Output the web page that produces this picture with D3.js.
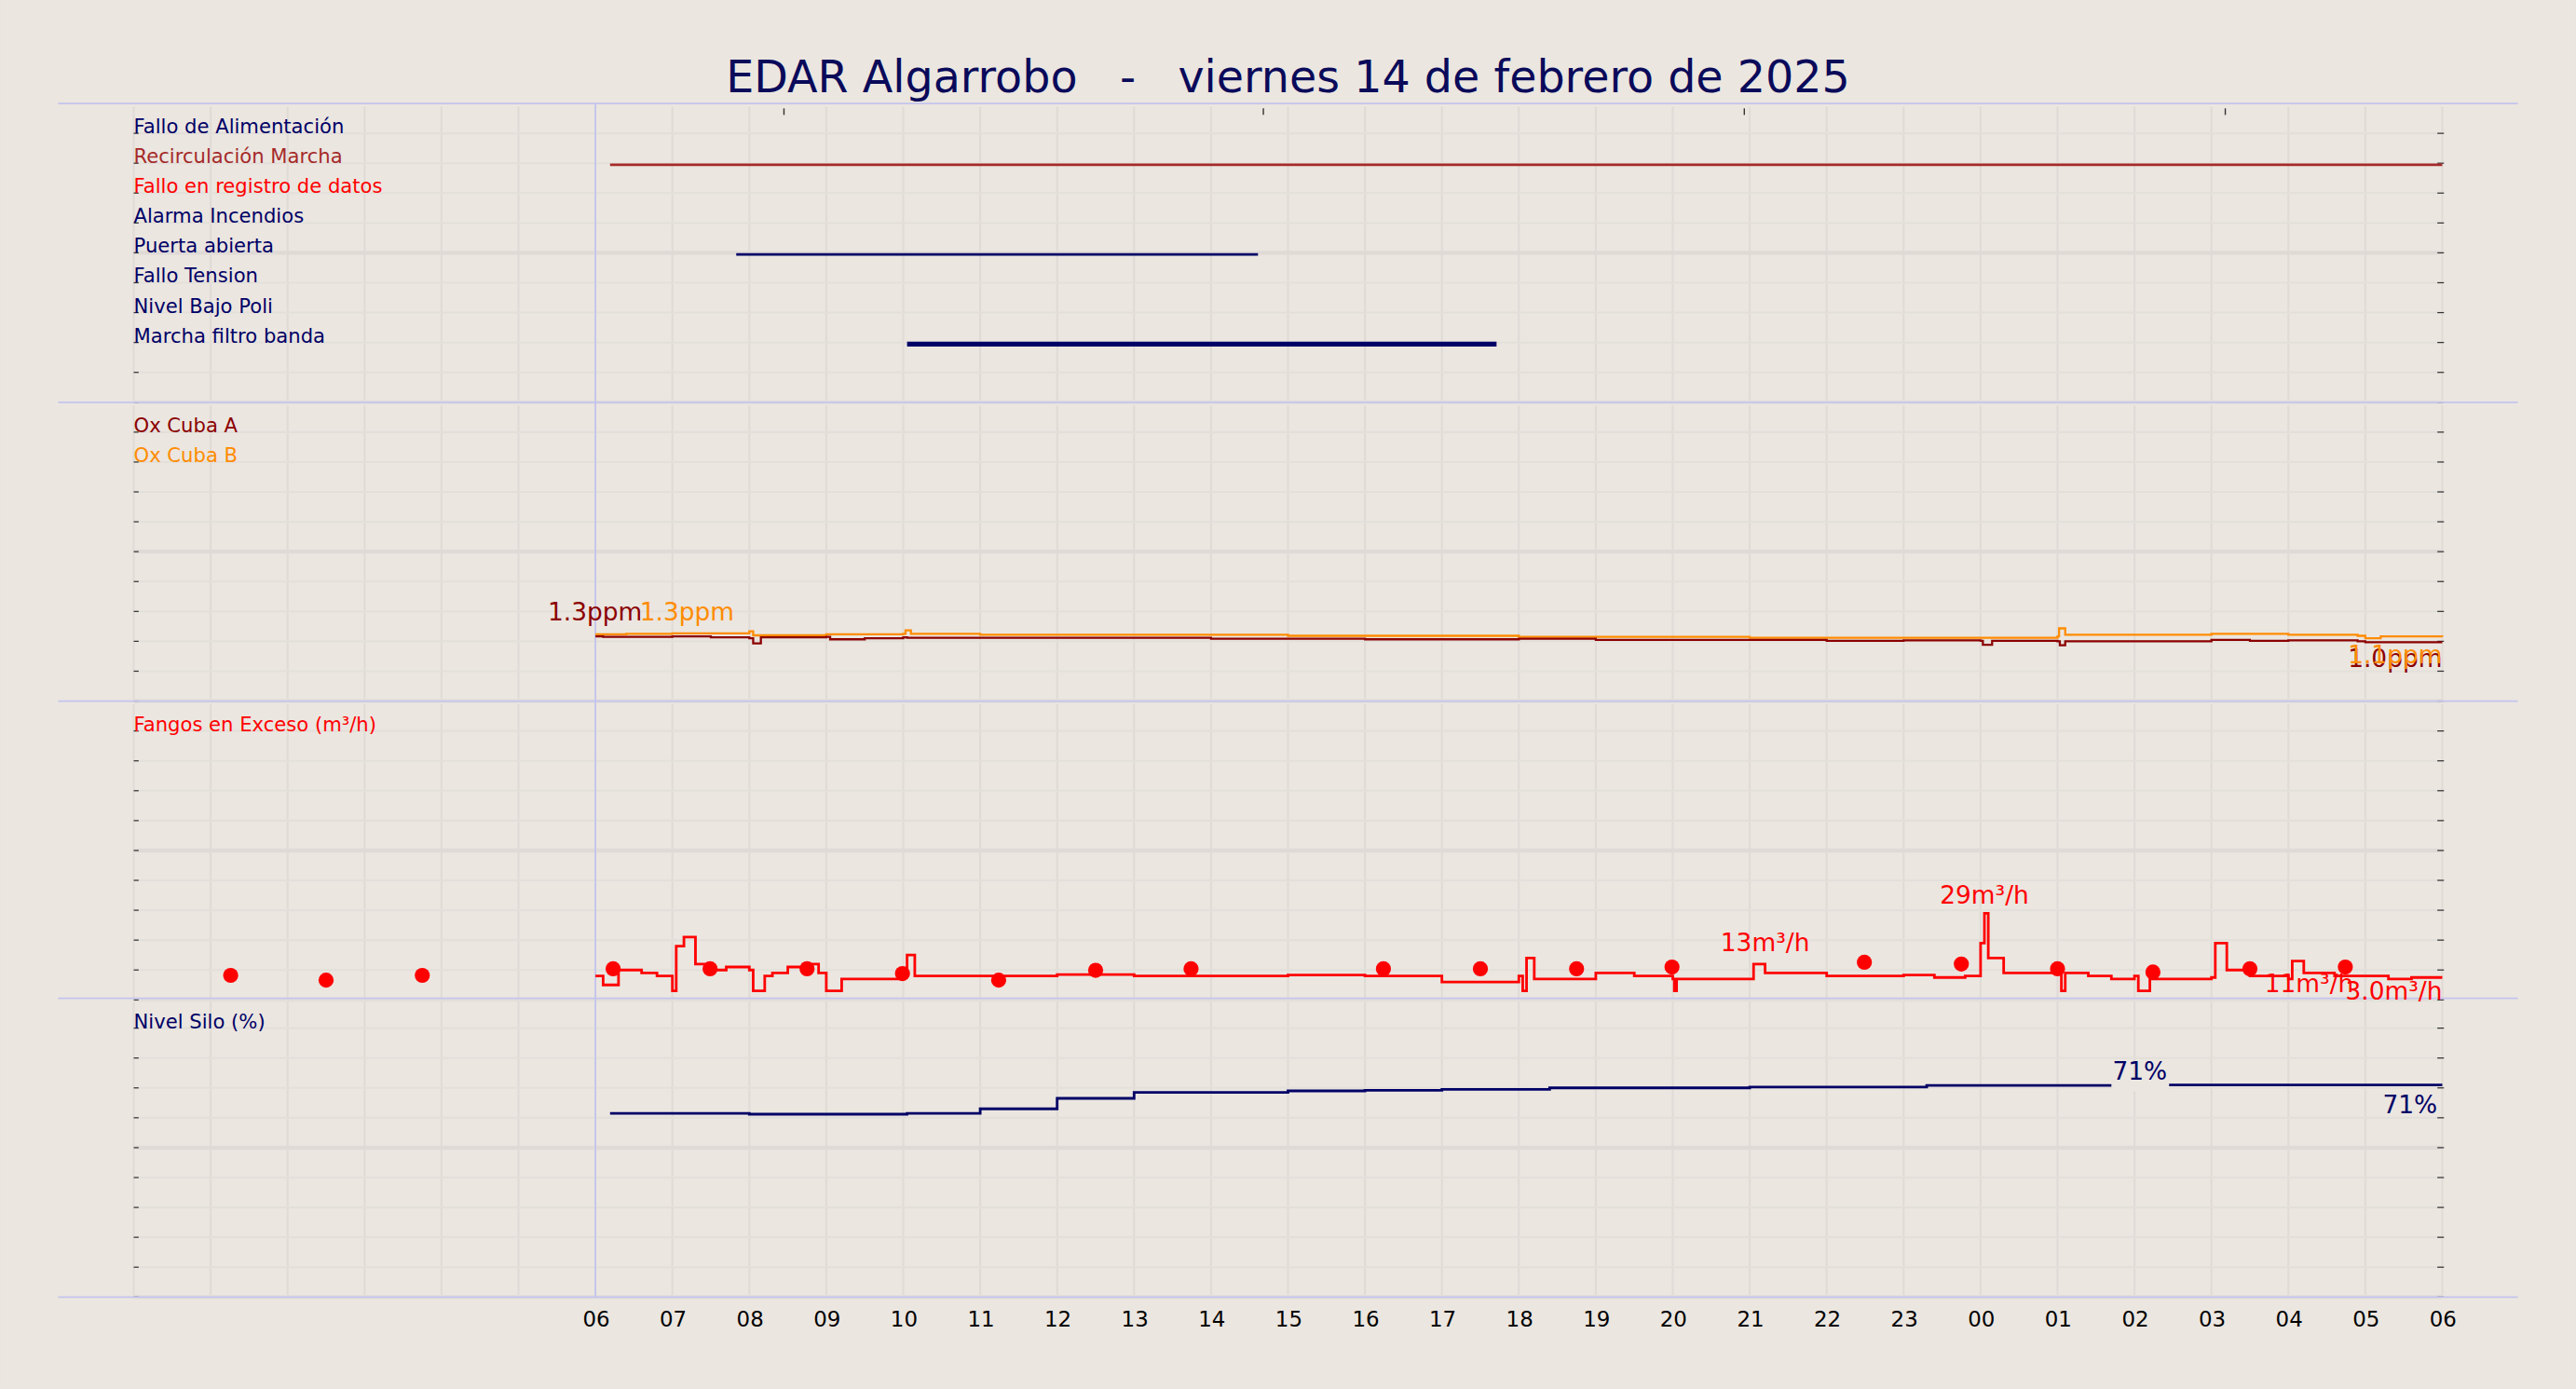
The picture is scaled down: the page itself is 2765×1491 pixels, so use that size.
<!DOCTYPE html><html><head><meta charset="utf-8"><script src="https://d3js.org/d3.v7.min.js"></script>
<style>body{margin:0;background:#ebe6e0}svg{display:block}text{white-space:pre}</style></head><body><svg id="c"></svg><script>
const title="EDAR Algarrobo   -   viernes 14 de febrero de 2025";
const hourLabels=["06","07","08","09","10","11","12","13","14","15","16","17","18","19","20","21","22","23","00","01","02","03","04","05","06"];
const eventNames=["Fallo de Alimentación","Recirculación Marcha","Fallo en registro de datos","Alarma Incendios","Puerta abierta","Fallo Tension","Nivel Bajo Poli","Marcha filtro banda"];
const eventColors=["#000066","#a52a2a","#ff0000","#000066","#000066","#000066","#000066","#000066"];
const eventSpans=[[1,6.19,30,1.5],[4,7.83,14.61,1.5],[7,10.05,17.71,3]];
const oxA=[[6,1.3],[6.1,1.29],[7,1.3],[7.5,1.28],[8,1.26],[8.05,1.16],[8.15,1.28],[9,1.29],[9.05,1.24],[9.5,1.26],[10,1.28],[10.05,1.27],[14,1.25],[16,1.24],[18,1.25],[19,1.23],[21,1.23],[22,1.21],[23,1.22],[24,1.21],[24.03,1.13],[24.15,1.21],[25,1.2],[25.03,1.12],[25.1,1.2],[26,1.2],[27,1.23],[27.5,1.21],[28,1.22],[28.9,1.2],[29,1.18],[30,1.18]];
const oxB=[[6,1.34],[6.4,1.35],[7,1.36],[8,1.4],[8.05,1.32],[9,1.34],[10,1.35],[10.03,1.42],[10.1,1.35],[11,1.33],[15,1.31],[18,1.29],[21,1.27],[24,1.27],[25,1.3],[25.02,1.46],[25.1,1.33],[27,1.35],[28,1.33],[28.9,1.31],[29,1.26],[29.2,1.3],[30,1.29]];
const fangos=[[6,8],[6.1,5],[6.3,10],[6.6,9],[6.8,8],[7,3],[7.05,18],[7.15,21],[7.3,12],[7.5,10],[7.7,11],[8,10],[8.05,3],[8.2,8],[8.3,9],[8.5,11],[8.7,12],[8.9,9],[9,3],[9.2,7],[9.6,7],[10,8],[10.05,15],[10.15,8],[12,8.5],[13,8],[15,8.3],[16,8],[17,6],[18,8],[18.05,3],[18.1,14],[18.2,7],[19,9],[19.5,8],[20,7],[20.02,3],[20.05,7],[21,7],[21.05,12],[21.2,9],[22,8],[23,8.3],[23.4,7.5],[23.8,8],[24,19],[24.05,29],[24.1,14],[24.3,9],[24.6,9],[25,10],[25.05,3],[25.1,9],[25.4,8],[25.7,7],[26,8],[26.05,3],[26.2,7],[26.6,7],[27,7.5],[27.05,19],[27.2,10],[27.5,8],[28,7],[28.05,13],[28.2,9],[28.6,8],[29,8],[29.3,7],[29.6,7.5],[30,7.5]];
const fangosDots=[[1.26,8.2],[2.5,6.6],[3.75,8.2],[6.23,10.4],[7.49,10.4],[8.75,10.4],[9.99,8.8],[11.24,6.6],[12.5,9.9],[13.74,10.4],[16.24,10.4],[17.5,10.4],[18.75,10.4],[19.99,11],[22.49,12.6],[23.75,12],[25,10.4],[26.24,9.3],[27.5,10.4],[28.74,11]];
const silo=[[6.19,61.5],[8,61.2],[10.05,61.5],[11,63],[12,66.5],[13,68.5],[15,69],[16,69.2],[17,69.5],[18.4,70],[21,70.3],[23.3,70.8],[26.1,71],[30,71]];
const W=1568,H=846;
const svg=d3.select("#c").attr("width",2765).attr("height",1491).attr("viewBox",`0 0 ${W} ${H}`);
svg.append("rect").attr("width",W).attr("height",H).attr("fill","#ebe6e0");
const x=d3.scaleLinear().domain([0,30]).range([81,1487]);
const tops=[63,245,427,608],ph=182;
const font="DejaVu Sans";
svg.append("text").attr("x",784).attr("y",56).attr("text-anchor","middle").attr("font-family",font).attr("font-size",27).attr("fill","#0a0a5a").attr("xml:space","preserve").text(title);
tops.forEach(t=>{
  const y=d3.scaleLinear().domain([0,10]).range([t+ph,t]);
  for(let h=0;h<=30;h++) svg.append("line").attr("x1",x(h)).attr("x2",x(h)).attr("y1",t+2).attr("y2",t+ph-1).attr("stroke","#e0dbd6").attr("stroke-width",1.2);
  for(let v=0;v<10;v++){svg.append("line").attr("x1",81).attr("x2",1487).attr("y1",y(v)).attr("y2",y(v)).attr("stroke",v==5?"#e0dad7":"#e3dfda").attr("stroke-width",v==5||v==0?2.5:1.2);
    svg.append("line").attr("x1",1484).attr("x2",1488).attr("y1",y(v)).attr("y2",y(v)).attr("stroke","#333").attr("stroke-width",0.7);
    svg.append("line").attr("x1",81).attr("x2",84).attr("y1",y(v)).attr("y2",y(v)).attr("stroke","#333").attr("stroke-width",0.7);}
});
[63,245,427,608,790].forEach(t=>svg.append("line").attr("x1",35).attr("x2",1533).attr("y1",t).attr("y2",t).attr("stroke","#c4c4ee").attr("stroke-width",1));
svg.append("line").attr("x1",x(6)).attr("x2",x(6)).attr("y1",63).attr("y2",790).attr("stroke","#c4c4ee").attr("stroke-width",1);
[8.45,14.68,20.93,27.18].forEach(h=>svg.append("line").attr("x1",x(h)).attr("x2",x(h)).attr("y1",66).attr("y2",70).attr("stroke","#333").attr("stroke-width",0.8));
const xa=d3.axisBottom(d3.scaleLinear().domain([6,30]).range([x(6),x(30)])).tickValues(d3.range(6,31)).tickFormat((d,i)=>hourLabels[i]).tickSize(0);
const g=svg.append("g").attr("transform","translate(0,796)").call(xa);
g.select(".domain").remove();g.selectAll("text").attr("font-family",font).attr("font-size",13).attr("fill","#000");
const lab=(s,yy,c)=>svg.append("text").attr("x",81).attr("y",yy).attr("font-family",font).attr("font-size",12).attr("fill",c).text(s);
const y1=d3.scaleLinear().domain([0,10]).range([tops[0]+ph,tops[0]]);
eventNames.forEach((n,i)=>lab(n,y1(9-i),eventColors[i]));
eventSpans.forEach(([r,a,b,w])=>svg.append("line").attr("x1",x(a)).attr("x2",x(b)).attr("y1",y1(9-r)+1).attr("y2",y1(9-r)+1).attr("stroke",eventColors[r]).attr("stroke-width",w));
const y2=d3.scaleLinear().domain([0,6]).range([tops[1]+ph,tops[1]]);
const y2l=d3.scaleLinear().domain([0,10]).range([tops[1]+ph,tops[1]]);
const stepLine=(ys)=>d3.line().x(d=>x(d[0])).y(d=>ys(d[1])).curve(d3.curveStepAfter);
svg.append("path").datum(oxB).attr("d",stepLine(y2)).attr("fill","none").attr("stroke","#ff8c00").attr("stroke-width",1.3);
svg.append("path").datum(oxA).attr("d",stepLine(y2)).attr("fill","none").attr("stroke","#8b0000").attr("stroke-width",1.3);
lab("Ox Cuba A",y2l(9),"#8b0000");lab("Ox Cuba B",y2l(8),"#ff8c00");
const t2=(s,xx,yy,c,an)=>svg.append("text").attr("x",xx).attr("y",yy).attr("text-anchor",an||"start").attr("font-family",font).attr("font-size",15).attr("fill",c).text(s);
t2("1.3ppm",x(6)-29,378,"#8b0000");
t2("1.3ppm",x(6)+27,378,"#ff8c00");
t2("1.0ppm",1487,406,"#8b0000","end");
t2("1.1ppm",1487,404,"#ff8c00","end");
const y3=d3.scaleLinear().domain([0,100]).range([tops[2]+ph,tops[2]]);
const y3l=d3.scaleLinear().domain([0,10]).range([tops[2]+ph,tops[2]]);
lab("Fangos en Exceso (m³/h)",y3l(9),"#ff0000");
svg.append("path").datum(fangos).attr("d",stepLine(y3)).attr("fill","none").attr("stroke","#ff0000").attr("stroke-width",1.6);
svg.selectAll(".dot").data(fangosDots).enter().append("circle").attr("cx",d=>x(d[0])).attr("cy",d=>y3(d[1])).attr("r",4.6).attr("fill","#ff0000");
t2("29m³/h",x(24.05),y3(29)-6,"#ff0000","middle");
t2("13m³/h",x(21.2),y3(13)-6,"#ff0000","middle");
t2("11m³/h",1433,y3(3)+1,"#ff0000","end");
t2("3.0m³/h",1487,y3(0)-0,"#ff0000","end");
const y4=d3.scaleLinear().domain([0,100]).range([tops[3]+ph,tops[3]]);
const y4l=d3.scaleLinear().domain([0,10]).range([tops[3]+ph,tops[3]]);
lab("Nivel Silo (%)",y4l(9),"#000066");
svg.append("path").datum(silo).attr("d",stepLine(y4)).attr("fill","none").attr("stroke","#000066").attr("stroke-width",1.6);
svg.append("rect").attr("x",x(25.7)).attr("y",y4(71)-4).attr("width",x(26.45)-x(25.7)).attr("height",8).attr("fill","#ebe6e0");
t2("71%",x(26.07),y4(71)-3,"#000066","middle");
t2("71%",1484,y4(71)+17,"#000066","end");
</script></body></html>
